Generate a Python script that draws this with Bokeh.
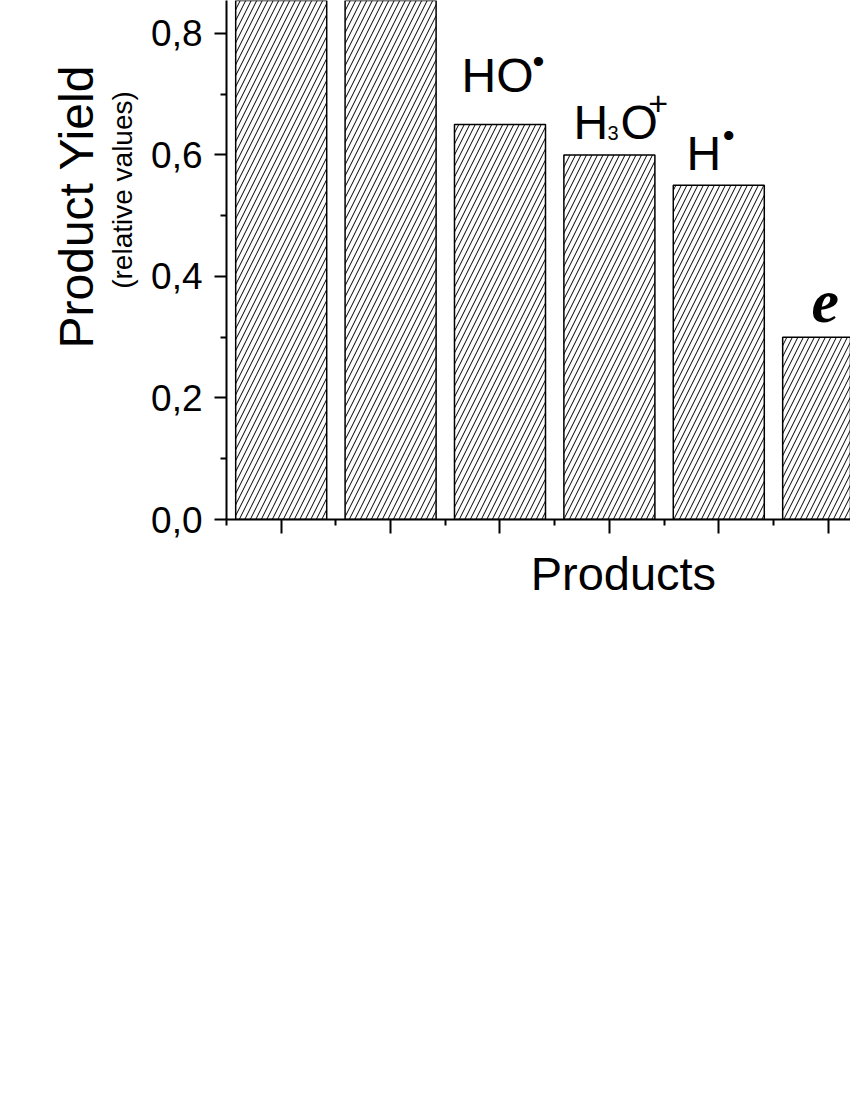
import math
from bokeh.plotting import figure
from bokeh.models import (FixedTicker, CustomJSTickFormatter, Label, Range1d,
                          ColumnDataSource, LinearAxis)
from bokeh.embed import file_html
from bokeh.resources import INLINE

# ---- data ----
products = ["H2", "H2O2", "HO•", "H3O+", "H•", "e-aq"]
positions = [1, 2, 3, 4, 5, 6]
yields = [1.0, 0.95, 0.65, 0.60, 0.55, 0.30]
y_ticks = [0.0, 0.2, 0.4, 0.6, 0.8]
y_minor = [0.1, 0.3, 0.5, 0.7]
x_minor = [0.5, 1.5, 2.5, 3.5, 4.5, 5.5, 6.5]

FONT = "Liberation Sans"
NB = "\u00a0"

p = figure(width=850, height=1000,
           x_range=Range1d(0.5, 6.204), y_range=Range1d(0, 0.8543),
           output_backend="svg", toolbar_location=None,
           min_border_left=226, min_border_right=0,
           min_border_top=0, min_border_bottom=481)
p.title.visible = False
p.xgrid.visible = False
p.ygrid.visible = False
p.outline_line_color = None
p.background_fill_color = "white"
p.border_fill_color = "white"

src = ColumnDataSource(dict(x=positions, top=yields, name=products))
p.vbar(x="x", top="top", bottom=0, width=0.832, source=src,
       fill_color="white", line_color="black", line_width=1.5,
       hatch_pattern="/", hatch_color="black", hatch_scale=11, hatch_weight=1.0)

# x axis
xa = p.xaxis[0]
xa.ticker = FixedTicker(ticks=positions, minor_ticks=x_minor)
xa.formatter = CustomJSTickFormatter(code="return '';")
xa.major_label_text_font_size = "0px"
xa.major_label_standoff = 0
xa.axis_line_width = 2
xa.axis_line_color = "black"
xa.major_tick_line_width = 2
xa.minor_tick_line_width = 2
xa.major_tick_in = 0
xa.major_tick_out = 14
xa.minor_tick_in = 0
xa.minor_tick_out = 6
xa.axis_label = NB * 13 + "Products"
xa.axis_label_text_font = FONT
xa.axis_label_text_font_size = "47px"
xa.axis_label_text_font_style = "normal"
xa.axis_label_text_color = "black"
xa.axis_label_standoff = 13

# y axis
ya = p.yaxis[0]
ya.ticker = FixedTicker(ticks=y_ticks, minor_ticks=y_minor)
ya.formatter = CustomJSTickFormatter(code="return tick.toFixed(1).replace('.', ',');")
ya.major_label_text_font = FONT
ya.major_label_text_font_size = "37px"
ya.major_label_text_color = "black"
ya.major_label_standoff = 12
ya.axis_line_width = 2
ya.axis_line_color = "black"
ya.major_tick_line_width = 2
ya.minor_tick_line_width = 2
ya.major_tick_in = 0
ya.major_tick_out = 12
ya.minor_tick_in = 0
ya.minor_tick_out = 6
ya.axis_label = NB * 18 + "(relative values)"
ya.axis_label_text_font = FONT
ya.axis_label_text_font_size = "28px"
ya.axis_label_text_font_style = "normal"
ya.axis_label_text_color = "black"
ya.axis_label_standoff = 10

# outer left axis carrying only the main title
ya2 = LinearAxis(ticker=FixedTicker(ticks=[]),
                 axis_label=NB * 8 + "Product Yield",
                 axis_label_text_font=FONT, axis_label_text_font_size="48px",
                 axis_label_text_font_style="normal", axis_label_text_color="black",
                 axis_label_standoff=2, axis_line_color=None,
                 major_tick_line_color=None, minor_tick_line_color=None,
                 major_tick_out=0, minor_tick_out=0, major_tick_in=0, minor_tick_in=0,
                 major_label_standoff=0, major_label_text_font_size="0px")
p.add_layout(ya2, "left")


def lab(x, y, text, dx, dy, size, font=FONT, style="normal", align="left"):
    p.add_layout(Label(x=x, y=y, text=text, x_offset=dx, y_offset=dy,
                       text_font=font, text_font_size=f"{size}px",
                       text_font_style=style, text_align=align,
                       text_baseline="middle", text_color="black"))

# bar labels (offsets in screen px from the bar's top centre)
i = 2  # HO•
lab(positions[i], yields[i], "HO", -38.5, 48.7, 48)
lab(positions[i], yields[i], "•", 38.5, 64.1, 34, align="center")
i = 3  # H3O+
lab(positions[i], yields[i], "H", -35.8, 32.1, 48)
lab(positions[i], yields[i], "3", -1.8, 22.4, 20)
lab(positions[i], yields[i], "O", 11.2, 32.1, 48)
lab(positions[i], yields[i], "+", 48.7, 51, 34, align="center")
i = 4  # H•
lab(positions[i], yields[i], "H", -32.2, 31.5, 48)
lab(positions[i], yields[i], "•", 9.8, 49.9, 34, align="center")
i = 5  # e-aq
lab(positions[i], yields[i], "e", -16.6, 35.7, 62, font="Liberation Serif", style="bold italic")

open("out.html", "w").write(file_html(p, INLINE))
